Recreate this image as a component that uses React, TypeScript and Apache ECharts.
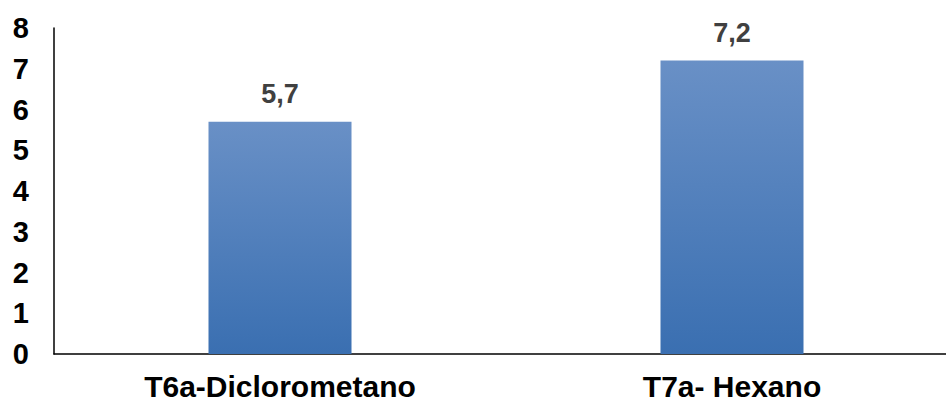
import React, { useEffect, useRef } from "react";
import * as echarts from "echarts";

const categories = ["T6a-Diclorometano", "T7a- Hexano"];
const values = [5.7, 7.2];
const yTicks = [0, 1, 2, 3, 4, 5, 6, 7, 8];

export default function App() {
  const ref = useRef<HTMLDivElement>(null);
  useEffect(() => {
    if (!ref.current) return;
    const chart = echarts.init(ref.current, null, { renderer: "svg" });
    const font = "'Liberation Sans', Arial, sans-serif";
    chart.setOption({
      animation: false,
      backgroundColor: "#ffffff",
      grid: { left: 54, top: 28, width: 904, bottom: 48, containLabel: false },
      xAxis: {
        type: "category",
        data: categories,
        axisLine: { lineStyle: { color: "#000", width: 1.5 } },
        axisTick: { show: false },
        axisLabel: {
          color: "#000",
          fontFamily: font,
          fontWeight: "bold",
          fontSize: 30,
          margin: 17,
        },
      },
      yAxis: {
        type: "value",
        min: yTicks[0],
        max: yTicks[yTicks.length - 1],
        interval: 1,
        axisLine: { show: true, lineStyle: { color: "#000", width: 1.5 } },
        axisTick: { show: false },
        splitLine: { show: false },
        axisLabel: {
          color: "#000",
          fontFamily: font,
          fontWeight: "bold",
          fontSize: 29,
          margin: 25,
        },
      },
      series: [
        {
          type: "bar",
          data: values,
          barWidth: 143,
          itemStyle: {
            color: new echarts.graphic.LinearGradient(0, 0, 0, 1, [
              { offset: 0, color: "#6990C6" },
              { offset: 1, color: "#3A6FB1" },
            ]),
          },
          label: {
            show: true,
            position: "top",
            distance: 14,
            color: "#404040",
            fontFamily: font,
            fontWeight: "bold",
            fontSize: 27,
            formatter: (p: any) => String(p.value).replace(".", ","),
          },
        },
      ],
    });
    return () => chart.dispose();
  }, []);
  return (
    <div
      ref={ref}
      style={{ position: "fixed", left: 0, top: 0, width: 960, height: 402 }}
    />
  );
}
